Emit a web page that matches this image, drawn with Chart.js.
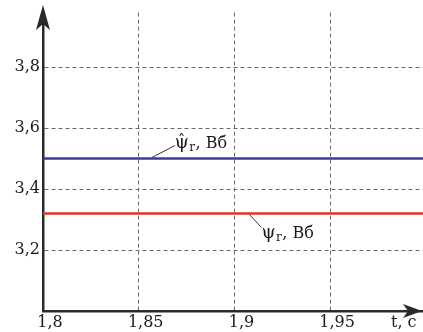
<!DOCTYPE html>
<html>
<head>
<meta charset="utf-8">
<script src="https://cdn.jsdelivr.net/npm/chart.js@4.4.1/dist/chart.umd.min.js"></script>
<style>
html,body{margin:0;padding:0;background:#fff;}
#wrap{width:423px;height:332px;position:relative;}
</style>
</head>
<body>
<div id="wrap"><canvas id="c" width="423" height="332"></canvas></div>
<script>
// ---- data ----
const timeS = [1.8, 1.85, 1.9, 1.95, 2.0];
const psiHatWb = [3.50, 3.50, 3.50, 3.50, 3.50];   // estimated flux (blue)
const psiWb = [3.32, 3.32, 3.32, 3.32, 3.32];      // actual flux (red)
const xTicks = [1.8, 1.85, 1.9, 1.95];
const yTicks = [3.2, 3.4, 3.6, 3.8];
const xAxisTitle = 't, c';
const unitLabel = ', Вб';

const FONT = '"DejaVu Serif", "Liberation Serif", serif';
const TXT = '#1a1a1a';

function fmt(v){ return String(+v.toFixed(2)).replace('.', ','); }

const deco = {
  id: 'deco',
  afterDraw(chart){
    const ctx = chart.ctx, a = chart.chartArea;
    const xs = chart.scales.x, ys = chart.scales.y;
    ctx.save();
    // arrows
    ctx.fillStyle = '#2a2a2a';
    const ax = a.left, ay = a.bottom;
    ctx.beginPath();
    ctx.moveTo(ax, 5);
    ctx.lineTo(ax + 7, 30);
    ctx.lineTo(ax, 24);
    ctx.lineTo(ax - 7, 30);
    ctx.closePath(); ctx.fill();
    ctx.beginPath();
    ctx.moveTo(422, ay);
    ctx.lineTo(403, ay - 7);
    ctx.lineTo(408, ay);
    ctx.lineTo(403, ay + 7);
    ctx.closePath(); ctx.fill();

    function psiLabel(x, y, hat){
      ctx.fillStyle = TXT;
      ctx.textBaseline = 'alphabetic';
      ctx.textAlign = 'left';
      ctx.font = '18px ' + FONT;
      ctx.fillText('ψ', x, y);
      const w = ctx.measureText('ψ').width;
      if (hat){
        ctx.font = '15px ' + FONT;
        ctx.fillText('ˆ', x + 3, y - 3);
      }
      ctx.font = '12px ' + FONT;
      ctx.fillText('r', x + w + 0.5, y + 3);
      const wr = ctx.measureText('r').width;
      ctx.font = '16px ' + FONT;
      ctx.fillText(unitLabel, x + w + wr + 1, y);
    }
    ctx.strokeStyle = '#333';
    ctx.lineWidth = 1;
    const yb = ys.getPixelForValue(psiHatWb[0]);
    const yr = ys.getPixelForValue(psiWb[0]);
    const x185 = xs.getPixelForValue(1.85);
    const x19 = xs.getPixelForValue(1.9);
    ctx.beginPath();
    ctx.moveTo(x185 + 13, yb - 1); ctx.lineTo(x185 + 36, yb - 13);
    ctx.moveTo(x19 + 15, yr + 1); ctx.lineTo(x19 + 27, yr + 14);
    ctx.stroke();
    psiLabel(x185 + 36, yb - 11, true);
    psiLabel(x19 + 27, yr + 25, false);

    ctx.fillStyle = TXT;
    ctx.font = '16px ' + FONT;
    ctx.textAlign = 'left';
    ctx.textBaseline = 'alphabetic';
    ctx.fillText(xAxisTitle, 391, 327);
    ctx.restore();
  }
};

new Chart(document.getElementById('c'), {
  type: 'line',
  data: {
    datasets: [
      { data: timeS.map((t,i)=>({x:t, y:psiHatWb[i]})), borderColor: '#3c3c98', borderWidth: 2.5, pointRadius: 0, tension: 0 },
      { data: timeS.map((t,i)=>({x:t, y:psiWb[i]})), borderColor: '#e8302a', borderWidth: 2.5, pointRadius: 0, tension: 0 }
    ]
  },
  options: {
    responsive: false,
    animation: false,
    events: [],
    layout: { padding: { top: 6, left: 0, right: 0, bottom: 0 } },
    plugins: { legend: { display: false }, tooltip: { enabled: false } },
    scales: {
      x: {
        type: 'linear', min: 1.8, max: 1.9985,
        afterBuildTicks: s => { s.ticks = xTicks.map(v => ({ value: v })); },
        afterFit: s => { s.height = 21; },
        grid: { color: '#6a6a6a', lineWidth: 1, drawTicks: false },
        border: { display: true, color: '#2a2a2a', width: 2.5, dash: [4, 3] },
        ticks: { font: { family: FONT, size: 16 }, color: TXT, padding: 2, labelOffset: 7, maxRotation: 0, autoSkip: false, callback: v => fmt(v) }
      },
      y: {
        type: 'linear', min: 3.0, max: 3.979,
        afterBuildTicks: s => { s.ticks = yTicks.map(v => ({ value: v })); },
        afterFit: s => { s.width = 43; },
        grid: { color: '#6a6a6a', lineWidth: 1, drawTicks: false },
        border: { display: true, color: '#2a2a2a', width: 2.5, dash: [4, 3] },
        ticks: { font: { family: FONT, size: 16 }, color: TXT, padding: 3, autoSkip: false, callback: v => fmt(v) }
      }
    }
  },
  plugins: [deco]
});
</script>
</body>
</html>
